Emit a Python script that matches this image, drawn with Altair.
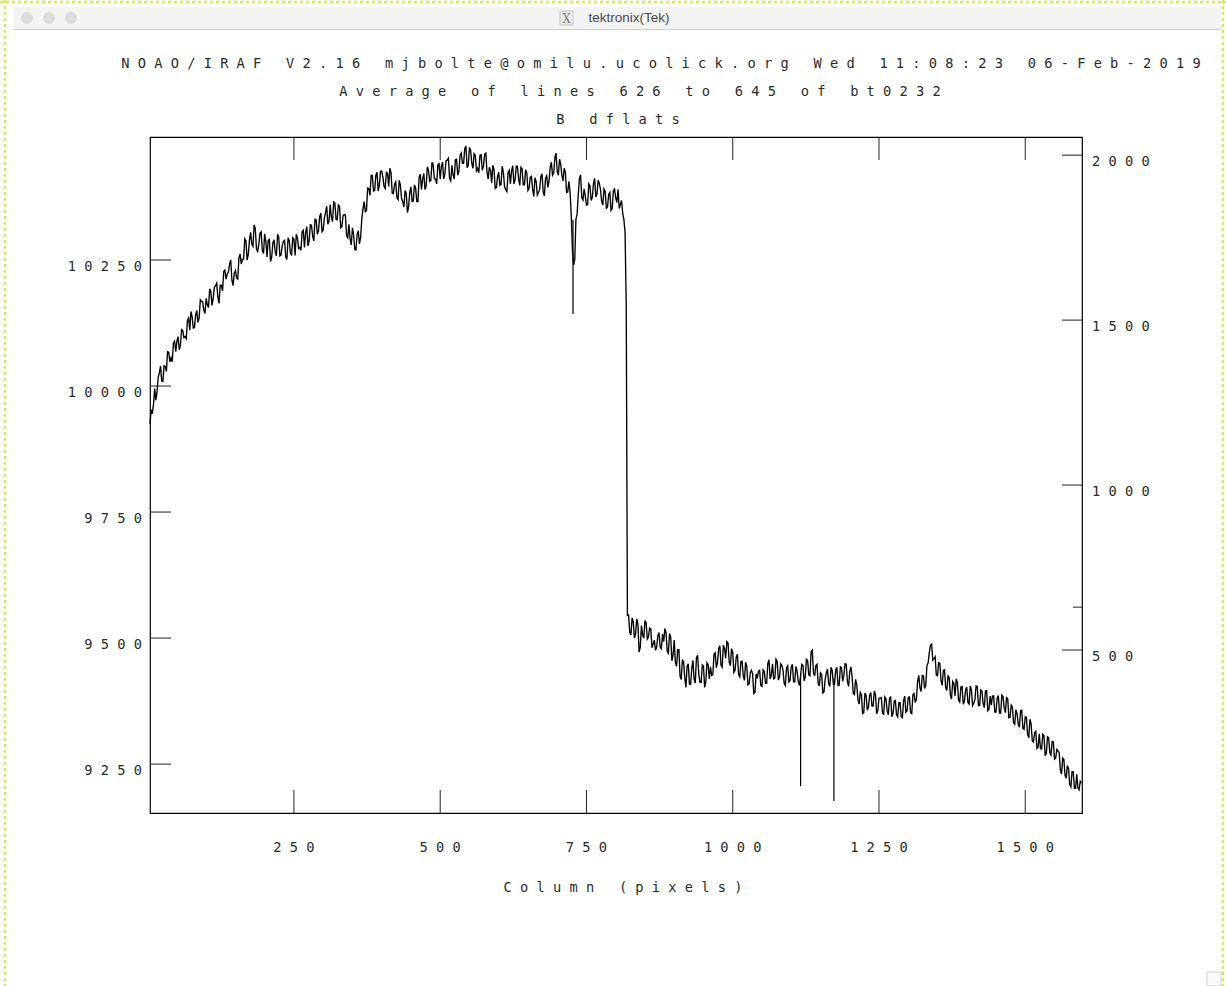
import altair as alt
import pandas as pd

# ---------------- data ----------------
# counts at columns 4, 8, 12, ... 1596
counts = [
    9925, 9945, 9995, 9988, 10026, 10010, 10040, 10029, 10067, 10056, 10085, 10068, 10098, 10081, 10110, 10098, 10130, 10111, 10137, 10116,
    10150, 10135, 10168, 10150, 10174, 10156, 10187, 10174, 10199, 10177, 10200, 10189, 10230, 10222, 10242, 10210, 10224, 10214, 10254, 10242,
    10252, 10288, 10261, 10305, 10277, 10312, 10267, 10303, 10269, 10302, 10256, 10291, 10255, 10290, 10258, 10296, 10260, 10287, 10256, 10294,
    10264, 10294, 10259, 10294, 10275, 10306, 10275, 10316, 10288, 10319, 10288, 10330, 10308, 10343, 10309, 10344, 10321, 10360, 10326, 10363,
    10330, 10356, 10316, 10340, 10298, 10321, 10280, 10300, 10270, 10308, 10295, 10351, 10346, 10393, 10378, 10418, 10388, 10424, 10398, 10426,
    10396, 10424, 10396, 10423, 10382, 10405, 10370, 10398, 10366, 10388, 10344, 10384, 10366, 10399, 10366, 10414, 10390, 10422, 10397, 10428,
    10408, 10439, 10411, 10439, 10411, 10444, 10421, 10448, 10412, 10438, 10411, 10450, 10426, 10462, 10442, 10476, 10438, 10468, 10432, 10458,
    10432, 10458, 10428, 10460, 10424, 10434, 10403, 10430, 10394, 10424, 10400, 10424, 10390, 10423, 10401, 10437, 10409, 10436, 10398, 10431,
    10399, 10423, 10392, 10416, 10376, 10406, 10384, 10416, 10386, 10412, 10394, 10434, 10418, 10453, 10426, 10450, 10418, 10432, 10384, 10406,
    10340, 10240, 10330, 10380, 10419, 10369, 10377, 10360, 10397, 10374, 10412, 10381, 10402, 10366, 10391, 10353, 10380, 10348, 10388, 10373,
    10390, 10360, 10342, 10305, 9545, 9512, 9540, 9500, 9538, 9472, 9525, 9500, 9530, 9502, 9518, 9488, 9476, 9505, 9482, 9508,
    9519, 9474, 9509, 9455, 9496, 9444, 9477, 9418, 9454, 9402, 9449, 9408, 9456, 9411, 9466, 9412, 9447, 9402, 9451, 9419,
    9426, 9468, 9441, 9479, 9446, 9486, 9460, 9490, 9445, 9472, 9436, 9468, 9423, 9454, 9416, 9444, 9409, 9436, 9390, 9429,
    9434, 9406, 9437, 9410, 9450, 9419, 9449, 9421, 9454, 9423, 9446, 9410, 9441, 9413, 9443, 9413, 9444, 9414, 9425, 9446,
    9423, 9456, 9425, 9476, 9425, 9448, 9405, 9428, 9393, 9431, 9409, 9442, 9409, 9437, 9406, 9443, 9414, 9449, 9414, 9433,
    9424, 9388, 9408, 9369, 9387, 9352, 9386, 9363, 9392, 9365, 9388, 9356, 9381, 9351, 9383, 9355, 9381, 9344, 9375, 9348,
    9372, 9344, 9376, 9353, 9382, 9352, 9388, 9372, 9414, 9401, 9426, 9400, 9446, 9471, 9488, 9459, 9426, 9451, 9416, 9436,
    9402, 9425, 9387, 9414, 9385, 9412, 9373, 9404, 9374, 9403, 9369, 9397, 9371, 9405, 9366, 9397, 9369, 9395, 9356, 9385,
    9385, 9353, 9381, 9351, 9387, 9361, 9382, 9342, 9367, 9332, 9358, 9329, 9356, 9321, 9344, 9309, 9339, 9296, 9312, 9281,
    9310, 9280, 9306, 9270, 9302, 9268, 9294, 9262, 9276, 9238, 9262, 9228, 9247, 9210, 9235, 9202, 9230, 9199, 9212,
]
# counts at columns 6, 10, 14, ... 1594
counts_mid = [
    9953, 9964, 9972, 10017, 10040, 10009, 10039, 10068, 10048, 10048, 10089, 10089, 10072, 10112, 10096, 10094, 10135, 10148, 10115, 10141,
    10126, 10171, 10167, 10144, 10161, 10193, 10160, 10196, 10204, 10164, 10200, 10227, 10212, 10226, 10250, 10199, 10229, 10212, 10262, 10251,
    10292, 10250, 10289, 10281, 10320, 10271, 10281, 10306, 10263, 10287, 10289, 10247, 10284, 10266, 10301, 10258, 10279, 10289, 10251, 10289,
    10259, 10291, 10301, 10273, 10269, 10309, 10304, 10278, 10320, 10298, 10331, 10301, 10336, 10306, 10333, 10357, 10327, 10335, 10365, 10331,
    10359, 10314, 10338, 10339, 10294, 10292, 10314, 10271, 10301, 10282, 10331, 10366, 10348, 10392, 10418, 10387, 10418, 10387, 10426, 10415,
    10392, 10422, 10432, 10383, 10400, 10374, 10408, 10372, 10355, 10382, 10356, 10395, 10367, 10393, 10366, 10420, 10410, 10390, 10435, 10406,
    10444, 10411, 10401, 10441, 10436, 10411, 10447, 10452, 10407, 10419, 10449, 10418, 10458, 10442, 10471, 10433, 10473, 10442, 10461, 10427,
    10423, 10459, 10436, 10462, 10411, 10428, 10438, 10392, 10415, 10398, 10436, 10395, 10386, 10428, 10427, 10401, 10436, 10411, 10434, 10399,
    10429, 10388, 10414, 10390, 10413, 10379, 10390, 10421, 10377, 10417, 10406, 10444, 10422, 10462, 10418, 10440, 10407, 10424, 10385, 10385,
    10270, 10250, 10341, 10412, 10374, 10391, 10359, 10401, 10368, 10401, 10375, 10408, 10390, 10359, 10386, 10355, 10384, 10352, 10391, 10364,
    10352, 10368, 10330, 10160, 9546, 9506, 9532, 9509, 9527, 9482, 9506, 9535, 9498, 9520, 9481, 9496, 9482, 9511, 9479, 9493,
    9511, 9470, 9502, 9466, 9452, 9477, 9424, 9456, 9422, 9444, 9409, 9440, 9418, 9461, 9429, 9412, 9445, 9413, 9447, 9443,
    9427, 9471, 9452, 9485, 9442, 9479, 9493, 9452, 9479, 9432, 9462, 9428, 9453, 9425, 9452, 9407, 9431, 9429, 9392, 9420,
    9436, 9404, 9434, 9410, 9457, 9426, 9419, 9458, 9417, 9449, 9436, 9406, 9445, 9416, 9448, 9413, 9435, 9406, 9448, 9415,
    9458, 9427, 9473, 9431, 9445, 9411, 9431, 9391, 9418, 9438, 9404, 9436, 9409, 9442, 9407, 9441, 9426, 9448, 9404, 9443,
    9390, 9418, 9378, 9392, 9350, 9391, 9357, 9386, 9365, 9395, 9350, 9381, 9382, 9349, 9379, 9348, 9383, 9350, 9376, 9344,
    9372, 9342, 9385, 9356, 9383, 9350, 9390, 9379, 9426, 9394, 9425, 9407, 9451, 9486, 9456, 9463, 9425, 9450, 9406, 9437,
    9396, 9422, 9379, 9410, 9419, 9377, 9403, 9369, 9397, 9372, 9405, 9366, 9378, 9404, 9366, 9395, 9362, 9396, 9359, 9367,
    9385, 9353, 9386, 9351, 9384, 9352, 9380, 9343, 9364, 9329, 9350, 9323, 9357, 9319, 9343, 9302, 9330, 9294, 9315, 9284,
    9281, 9309, 9268, 9304, 9273, 9295, 9260, 9279, 9273, 9230, 9259, 9222, 9241, 9205, 9235, 9202, 9203, 9216,
]
columns = [4 + 4 * i for i in range(len(counts))]
columns_mid = [6 + 4 * i for i in range(len(counts_mid))]

spike_cols = [727, 1116, 1173]
spike_top = [10330, 9430, 9420]
spike_low = [10143, 9206, 9177]

x_ticks = [250, 500, 750, 1000, 1250, 1500]
left_ticks = [9250, 9500, 9750, 10000, 10250]
right_ticks = [500, 1000, 1500, 2000]
right_minor = [630]

title1 = "NOAO/IRAF V2.16 mjbolte@omilu.ucolick.org Wed 11:08:23 06-Feb-2019"
title2 = "Average of lines 626 to 645 of bt0232"
title3 = "B dflats"
xtitle = "Column (pixels)"
window_title = "tektronix(Tek)"

# ---------------- layout ----------------
W, H = 932, 676
OX, OY = 150, 137
XDOM = [4, 1597]
YDOM = [9153, 10494]
RDOM = [6, 2055]

FONT = "DejaVu Sans Mono"
FS = 13.7
TXT = "#2a2a2a"
NB = "\u00a0"


def sp(s):
    # IRAF stroke font: wide, even character pitch
    return NB.join(str(s).replace(" ", NB))


xs = alt.Scale(domain=XDOM, nice=False, zero=False)
ys = alt.Scale(domain=YDOM, nice=False, zero=False)
rs = alt.Scale(domain=RDOM, nice=False, zero=False)

one = alt.Data(values=[{}])

df = pd.concat([
    pd.DataFrame({"col": columns, "val": counts}),
    pd.DataFrame({"col": columns_mid, "val": counts_mid}),
]).sort_values("col").reset_index(drop=True)
spikes = pd.DataFrame({"col": spike_cols, "top": spike_top, "low": spike_low})
xt = pd.DataFrame({"c": x_ticks, "lab": [sp(v) for v in x_ticks]})
lt = pd.DataFrame({"v": left_ticks, "lab": [sp(v) for v in left_ticks]})
rt = pd.DataFrame({"r": right_ticks, "lab": [sp(v) for v in right_ticks]})
rm = pd.DataFrame({"r": right_minor})

txt_style = dict(font=FONT, fontSize=FS, color=TXT, baseline="middle")

line = alt.Chart(df).mark_line(color="black", strokeWidth=1.35, strokeJoin="miter").encode(
    x=alt.X("col:Q", scale=xs, axis=None),
    y=alt.Y("val:Q", scale=ys, axis=None),
    order="col:Q",
)

spk = alt.Chart(spikes).mark_rule(color="black", strokeWidth=1.2).encode(
    x=alt.X("col:Q", scale=xs, axis=None),
    y=alt.Y("top:Q", scale=ys, axis=None),
    y2="low:Q",
)

bticks = alt.Chart(xt).mark_rule(color="#222", strokeWidth=1).encode(
    x=alt.X("c:Q", scale=xs, axis=None), y=alt.value(H - 23), y2=alt.value(H))
tticks = alt.Chart(xt).mark_rule(color="#222", strokeWidth=1).encode(
    x=alt.X("c:Q", scale=xs, axis=None), y=alt.value(0), y2=alt.value(23))
xlabels = alt.Chart(xt).mark_text(align="center", **txt_style).encode(
    x=alt.X("c:Q", scale=xs, axis=None), y=alt.value(H + 35), text="lab:N")

lticks = alt.Chart(lt).mark_rule(color="#222", strokeWidth=1).encode(
    y=alt.Y("v:Q", scale=ys, axis=None), x=alt.value(0), x2=alt.value(21))
llabels = alt.Chart(lt).mark_text(align="right", dy=7, **txt_style).encode(
    y=alt.Y("v:Q", scale=ys, axis=None), x=alt.value(-8), text="lab:N")

left = alt.layer(line, spk, bticks, tticks, xlabels, lticks, llabels)

rticks = alt.Chart(rt).mark_rule(color="#222", strokeWidth=1).encode(
    y=alt.Y("r:Q", scale=rs, axis=None), x=alt.value(W - 20), x2=alt.value(W))
rlabels = alt.Chart(rt).mark_text(align="left", dy=7, **txt_style).encode(
    y=alt.Y("r:Q", scale=rs, axis=None), x=alt.value(W + 10), text="lab:N")
rminor = alt.Chart(rm).mark_rule(color="#222", strokeWidth=1).encode(
    y=alt.Y("r:Q", scale=rs, axis=None), x=alt.value(W - 9), x2=alt.value(W))

right = alt.layer(rticks, rlabels, rminor)

# ---------------- window chrome & texts ----------------
def px(X):
    return X - OX


def py(Y):
    return Y - OY


decos = []
dot = dict(color="#d8e46a", strokeWidth=2.5, strokeDash=[3, 3])
decos.append(alt.Chart(one).mark_rule(**dot).encode(
    x=alt.value(px(5)), y=alt.value(py(0)), y2=alt.value(py(986))))
decos.append(alt.Chart(one).mark_rule(**dot).encode(
    x=alt.value(px(0)), x2=alt.value(px(1226)), y=alt.value(py(2))))
decos.append(alt.Chart(one).mark_rule(**dot).encode(
    x=alt.value(px(1223)), y=alt.value(py(0)), y2=alt.value(py(986))))
decos.append(alt.Chart(one).mark_rect(fill="#f3f3f3").encode(
    x=alt.value(px(14)), x2=alt.value(px(1221)), y=alt.value(py(7)), y2=alt.value(py(29))))
decos.append(alt.Chart(one).mark_rule(color="#cfcfcf", strokeWidth=1).encode(
    x=alt.value(px(14)), x2=alt.value(px(1221)), y=alt.value(py(29.5))))
for cx in (27, 49, 71):
    decos.append(alt.Chart(one).mark_circle(color="#dcdcdc", opacity=1, size=140).encode(
        x=alt.value(px(cx)), y=alt.value(py(18))))
decos.append(alt.Chart(one).mark_rect(fill="#ececec", stroke="#c4c4c4", strokeWidth=1).encode(
    x=alt.value(px(560)), x2=alt.value(px(573)), y=alt.value(py(11)), y2=alt.value(py(25))))
decos.append(alt.Chart(one).mark_text(text="X", font="DejaVu Serif", fontSize=12,
                                      color="#808080", align="center", baseline="middle").encode(
    x=alt.value(px(566.5)), y=alt.value(py(18.5))))
decos.append(alt.Chart(one).mark_text(text=window_title, font="Liberation Sans", fontSize=13.5,
                                      color="#4a4a4a", align="center", baseline="middle").encode(
    x=alt.value(px(629)), y=alt.value(py(18))))
decos.append(alt.Chart(one).mark_rect(fill="#fafafa", stroke="#d0d0d0", strokeWidth=1).encode(
    x=alt.value(px(1207)), x2=alt.value(px(1221)), y=alt.value(py(972)), y2=alt.value(py(986))))

for txt, cx, cy in ((title1, 661, 64), (title2, 640, 92), (title3, 618, 120), (xtitle, 623, 888)):
    decos.append(alt.Chart(one).mark_text(text=sp(txt), align="center", **txt_style).encode(
        x=alt.value(px(cx)), y=alt.value(py(cy))))

chart = alt.layer(left, right, *decos).resolve_scale(y="independent").properties(
    width=W, height=H,
    autosize=alt.AutoSizeParams(type="none"),
    padding={"left": OX, "top": OY, "right": 1226 - OX - W, "bottom": 986 - OY - H},
    background="white",
).configure_view(stroke="black", strokeWidth=1.2)

chart.save("out.html", embed_options={"renderer": "svg", "actions": False})
